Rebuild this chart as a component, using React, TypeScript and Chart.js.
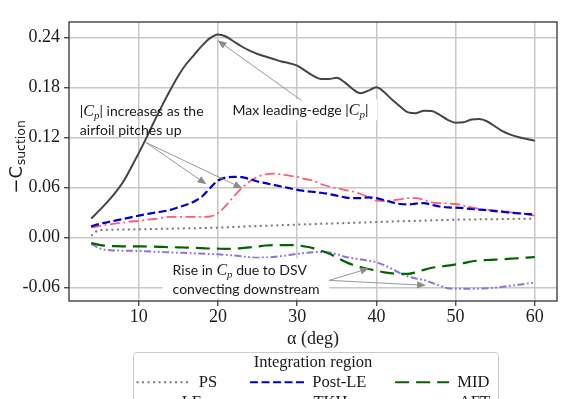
import React, { useEffect, useRef } from 'react';
import { Chart, registerables } from 'chart.js';

Chart.register(...registerables);

// ---------- data ----------
const ALPHA = [4, 5, 6, 7, 8, 9, 10, 11, 12, 13, 14, 15, 16, 17, 18, 19, 20, 21, 22, 23, 24, 25, 26, 27, 28, 29, 30, 31, 32, 33, 34, 35, 36, 37, 38, 39, 40, 41, 42, 43, 44, 45, 46, 47, 48, 49, 50, 51, 52, 53, 54, 55, 56, 57, 58, 59, 60];

const PS = [0.002, 0.0086, 0.009, 0.0092, 0.0094, 0.0095, 0.0096, 0.0098, 0.0100, 0.0102, 0.0104, 0.0106, 0.0108, 0.0110, 0.0112, 0.0114, 0.0116, 0.0120, 0.0124, 0.0128, 0.0132, 0.0136, 0.0139, 0.0142, 0.0146, 0.0149, 0.0152, 0.0156, 0.0159, 0.0162, 0.0165, 0.0168, 0.0171, 0.0174, 0.0177, 0.0180, 0.0184, 0.0187, 0.0190, 0.0193, 0.0196, 0.0198, 0.0201, 0.0204, 0.0206, 0.0209, 0.0212, 0.0213, 0.0214, 0.0216, 0.0217, 0.0218, 0.0219, 0.0221, 0.0222, 0.0223, 0.0224];

const POST_LE = [0.0132, 0.016, 0.018, 0.020, 0.022, 0.024, 0.026, 0.0278, 0.0296, 0.031, 0.033, 0.036, 0.039, 0.043, 0.049, 0.059, 0.068, 0.0718, 0.0725, 0.0722, 0.070, 0.067, 0.065, 0.063, 0.061, 0.059, 0.057, 0.0556, 0.0545, 0.0535, 0.052, 0.050, 0.048, 0.047, 0.047, 0.048, 0.047, 0.0445, 0.042, 0.040, 0.0395, 0.0405, 0.041, 0.039, 0.037, 0.036, 0.0356, 0.035, 0.034, 0.0333, 0.0325, 0.0315, 0.0305, 0.0295, 0.0288, 0.028, 0.0272];

const MID = [-0.0068, -0.009, -0.0102, -0.0106, -0.0108, -0.0108, -0.0109, -0.011, -0.0112, -0.0115, -0.0118, -0.012, -0.0123, -0.0126, -0.013, -0.0134, -0.0136, -0.0138, -0.0136, -0.013, -0.012, -0.011, -0.0098, -0.0094, -0.0094, -0.0094, -0.0096, -0.011, -0.013, -0.016, -0.0195, -0.024, -0.029, -0.033, -0.0358, -0.038, -0.040, -0.042, -0.0432, -0.0437, -0.0438, -0.042, -0.039, -0.0365, -0.0352, -0.034, -0.0325, -0.031, -0.029, -0.0278, -0.0272, -0.0268, -0.0262, -0.0256, -0.025, -0.0243, -0.0236];

const LE = [0.0225, 0.032, 0.042, 0.053, 0.066, 0.083, 0.101, 0.120, 0.140, 0.159, 0.177, 0.194, 0.208, 0.219, 0.230, 0.239, 0.2435, 0.241, 0.235, 0.229, 0.224, 0.220, 0.217, 0.214, 0.211, 0.209, 0.206, 0.200, 0.194, 0.190, 0.190, 0.1915, 0.186, 0.178, 0.173, 0.176, 0.180, 0.174, 0.165, 0.157, 0.150, 0.149, 0.152, 0.1515, 0.147, 0.141, 0.1375, 0.138, 0.1415, 0.142, 0.139, 0.133, 0.127, 0.123, 0.120, 0.118, 0.116];

const TKH = [0.0116, 0.0135, 0.015, 0.0165, 0.0175, 0.019, 0.0196, 0.021, 0.022, 0.0235, 0.0245, 0.0245, 0.0245, 0.0245, 0.0245, 0.025, 0.029, 0.038, 0.049, 0.059, 0.067, 0.0725, 0.0755, 0.0765, 0.0755, 0.074, 0.0725, 0.070, 0.068, 0.064, 0.061, 0.059, 0.057, 0.055, 0.052, 0.048, 0.044, 0.0435, 0.0445, 0.0455, 0.047, 0.047, 0.045, 0.042, 0.041, 0.0405, 0.040, 0.038, 0.036, 0.034, 0.033, 0.0322, 0.0318, 0.030, 0.029, 0.0275, 0.026];

const AFT = [-0.0076, -0.013, -0.0152, -0.0158, -0.016, -0.0162, -0.0164, -0.0168, -0.0172, -0.0176, -0.018, -0.0184, -0.0188, -0.0192, -0.0196, -0.0200, -0.0204, -0.021, -0.0218, -0.0228, -0.0238, -0.0244, -0.0242, -0.0236, -0.0225, -0.0212, -0.0198, -0.0186, -0.0178, -0.0176, -0.0182, -0.0202, -0.0232, -0.025, -0.0265, -0.028, -0.0298, -0.0335, -0.038, -0.043, -0.047, -0.0495, -0.0512, -0.0545, -0.058, -0.061, -0.0618, -0.0618, -0.0618, -0.0615, -0.061, -0.0603, -0.0593, -0.058, -0.0568, -0.0555, -0.0544];

const X_TICKS = [10, 20, 30, 40, 50, 60];
const Y_TICKS = [-0.06, 0, 0.06, 0.12, 0.18, 0.24];

// legend: number of trailing spaces used to mimic column alignment
const LEGEND_PAD: Record<string, number> = { PS: 7, 'Post-LE': 6, MID: 0, LE: 11, TKH: 11, AFT: 4 };

const SANS = '14px Lato';
const MATH_C = 'italic 16px "Liberation Serif"';
const MATH_SUB = 'italic 11px "Liberation Serif"';
const TXT = '#1a1a1a';
const ARROW = '#8c8c8c';

type Part = { t: string; font: string; dy?: number };
const CP: Part[] = [
  { t: '|', font: SANS },
  { t: 'C', font: MATH_C },
  { t: 'p', font: MATH_SUB, dy: 3 },
  { t: '|', font: SANS },
];

function drawRich(ctx: CanvasRenderingContext2D, x: number, y: number, parts: Part[]) {
  let cx = x;
  for (const p of parts) {
    ctx.font = p.font;
    ctx.fillText(p.t, cx, y + (p.dy || 0));
    cx += ctx.measureText(p.t).width;
  }
  return cx;
}

function arrow(ctx: CanvasRenderingContext2D, x0: number, y0: number, x1: number, y1: number) {
  const ang = Math.atan2(y1 - y0, x1 - x0);
  const L = 9, W = 3.6;
  const bx = x1 - L * Math.cos(ang), by = y1 - L * Math.sin(ang);
  ctx.save();
  ctx.setLineDash([]);
  ctx.strokeStyle = ARROW;
  ctx.lineWidth = 0.9;
  ctx.beginPath();
  ctx.moveTo(x0, y0);
  ctx.lineTo(bx, by);
  ctx.stroke();
  ctx.fillStyle = ARROW;
  ctx.beginPath();
  ctx.moveTo(x1, y1);
  ctx.lineTo(bx - W * Math.sin(ang), by + W * Math.cos(ang));
  ctx.lineTo(bx + W * Math.sin(ang), by - W * Math.cos(ang));
  ctx.closePath();
  ctx.fill();
  ctx.restore();
}

const mk = (label: string, values: number[], color: string, dash: number[], width: number) => ({
  label,
  data: ALPHA.map((a, i) => ({ x: a, y: values[i] })),
  borderColor: color,
  backgroundColor: color,
  borderDash: dash,
  borderWidth: width,
  pointRadius: 0,
  fill: false,
  cubicInterpolationMode: 'monotone' as const,
});

export default function App() {
  const ref = useRef<HTMLCanvasElement>(null);

  useEffect(() => {
    let chart: Chart | null = null;
    let cancelled = false;

    const frameAndNotes = {
      id: 'frameAndNotes',
      beforeDraw(c: any) {
        const ctx: CanvasRenderingContext2D = c.ctx;
        // legend frame
        ctx.save();
        ctx.fillStyle = 'rgba(255,255,255,0.8)';
        ctx.strokeStyle = '#cccccc';
        ctx.lineWidth = 1;
        ctx.beginPath();
        (ctx as any).roundRect(133.5, 352.5, 365, 90, 3);
        ctx.fill();
        ctx.stroke();
        ctx.restore();
      },
      afterDatasetsDraw(c: any) {
        const ctx: CanvasRenderingContext2D = c.ctx;
        const { left, right, top, bottom } = c.chartArea;
        const xs = c.scales.x, ys = c.scales.y;
        const P = (a: number, v: number) => [xs.getPixelForValue(a), ys.getPixelForValue(v)];

        // axes frame
        ctx.save();
        ctx.setLineDash([]);
        ctx.strokeStyle = '#333';
        ctx.lineWidth = 1.3;
        ctx.strokeRect(left, top, right - left, bottom - top);
        ctx.restore();

        ctx.save();
        // white boxes
        ctx.fillStyle = '#ffffff';
        {
          const [x0, y0] = P(21.2, 0.1656);
          const [x1, y1] = P(40.1, 0.1404);
          ctx.fillRect(x0, y0, x1 - x0, y1 - y0);
        }
        {
          const [x0, y0] = P(13.02, -0.0252);
          const [x1, y1] = P(34.05, -0.0732);
          ctx.fillRect(x0, y0, x1 - x0, y1 - y0);
        }

        // arrows
        {
          const [tx, ty] = P(30.53, 0.1644);
          const [hx, hy] = P(19.95, 0.2364);
          arrow(ctx, tx, ty, hx, hy);
        }
        {
          const [tx, ty] = P(10.88, 0.114);
          const [h1x, h1y] = P(18.56, 0.0636);
          const [h2x, h2y] = P(23.1, 0.0588);
          arrow(ctx, tx, ty, h1x, h1y);
          arrow(ctx, tx, ty, h2x, h2y);
        }
        {
          const [tx, ty] = P(34.05, -0.0516);
          const [h1x, h1y] = P(39.09, -0.0372);
          const [h2x, h2y] = P(46.27, -0.0576);
          arrow(ctx, tx, ty, h1x, h1y);
          arrow(ctx, tx, ty, h2x, h2y);
        }

        // texts
        ctx.fillStyle = TXT;
        ctx.textBaseline = 'alphabetic';
        ctx.textAlign = 'left';
        {
          const [x, y] = P(21.84, 0.1464);
          drawRich(ctx, x, y, [{ t: 'Max leading-edge ', font: SANS }, ...CP]);
        }
        {
          const [x, y1] = P(2.57, 0.1456);
          const [, y2] = P(2.57, 0.1224);
          drawRich(ctx, x, y1, [...CP, { t: ' increases as the', font: SANS }]);
          drawRich(ctx, x, y2, [{ t: 'airfoil pitches up', font: SANS }]);
        }
        {
          const [x, y1] = P(14.28, -0.0456);
          const [, y2] = P(14.28, -0.0684);
          drawRich(ctx, x, y1, [
            { t: 'Rise in ', font: SANS },
            { t: 'C', font: MATH_C },
            { t: 'p', font: MATH_SUB, dy: 3 },
            { t: ' due to DSV', font: SANS },
          ]);
          drawRich(ctx, x, y2, [{ t: 'convecting downstream', font: SANS }]);
        }
        ctx.restore();

        // y-axis title  -C_suction
        ctx.save();
        ctx.fillStyle = TXT;
        ctx.textBaseline = 'alphabetic';
        ctx.textAlign = 'left';
        const cy = (top + bottom) / 2;
        ctx.translate(22, cy + 32);
        ctx.rotate(-Math.PI / 2);
        ctx.font = '18px "DejaVu Sans"';
        ctx.fillText('\u2212C', 0, 0);
        const w = ctx.measureText('\u2212C').width;
        ctx.font = '12.5px "DejaVu Sans"';
        ctx.fillText('suction', w + 0.5, 3);
        ctx.restore();
      },
    };

    const build = () => {
      if (cancelled || !ref.current) return;
      const datasets = [
        mk('PS', PS, '#777777', [2, 3.5], 2),
        mk('Post-LE', POST_LE, '#0000cd', [8, 3.5], 2.2),
        mk('MID', MID, '#006400', [14, 7], 2.2),
        mk('LE', LE, '#444444', [], 2),
        mk('TKH', TKH, '#ff5a78', [10, 3.5, 2, 3.5], 1.8),
        mk('AFT', AFT, '#9370db', [7, 2.5, 1.8, 2.5, 1.8, 2.5], 2),
      ];

      chart = new Chart(ref.current, {
        type: 'line',
        data: { datasets },
        plugins: [frameAndNotes],
        options: {
          responsive: false,
          devicePixelRatio: 1,
          animation: false,
          events: [],
          layout: { padding: { top: 22, right: 17, left: 0, bottom: 0 } },
          scales: {
            x: {
              type: 'linear',
              min: 1.2,
              max: 62.8,
              afterBuildTicks: (s: any) => { s.ticks = X_TICKS.map((v) => ({ value: v })); },
              afterFit: (s: any) => { s.height = 50.7; },
              ticks: {
                font: { family: 'Liberation Serif', size: 18 },
                color: TXT,
                padding: 0,
                maxRotation: 0,
                autoSkip: false,
                callback: (v: any) => String(v),
              },
              grid: { color: '#c8c8c8', lineWidth: 1.5, drawTicks: true, tickLength: 5, tickColor: '#333', tickWidth: 1.2 },
              border: { display: false },
              title: {
                display: true,
                text: 'α (deg)',
                font: { family: 'Liberation Serif', size: 18 },
                color: TXT,
                padding: { top: 0, bottom: 2 },
              },
            },
            y: {
              type: 'linear',
              min: -0.0764,
              max: 0.2584,
              afterBuildTicks: (s: any) => { s.ticks = Y_TICKS.map((v) => ({ value: v })); },
              afterFit: (s: any) => { s.width = 69; },
              ticks: {
                font: { family: 'Liberation Serif', size: 18 },
                color: TXT,
                padding: 4,
                autoSkip: false,
                callback: (v: any) => Number(v).toFixed(2),
              },
              grid: { color: '#c8c8c8', lineWidth: 1.5, drawTicks: true, tickLength: 5, tickColor: '#333', tickWidth: 1.2 },
              border: { display: false },
            },
          },
          plugins: {
            tooltip: { enabled: false },
            legend: {
              display: true,
              position: 'bottom',
              fullSize: false,
              align: 'center',
              title: {
                display: true,
                text: 'Integration region',
                color: TXT,
                font: { family: 'Liberation Serif', size: 16.5 },
                padding: { top: 2.5, bottom: -4 } as any,
              },
              labels: {
                usePointStyle: true,
                pointStyle: 'line',
                pointStyleWidth: 54,
                padding: 4,
                color: TXT,
                font: { family: 'Liberation Serif', size: 16.5 },
                generateLabels: (c: any) =>
                  c.data.datasets.map((ds: any, i: number) => ({
                    text: ds.label + ' '.repeat(LEGEND_PAD[ds.label] || 0),
                    fillStyle: 'rgba(0,0,0,0)',
                    strokeStyle: ds.borderColor,
                    lineWidth: ds.borderWidth,
                    lineDash: ds.borderDash,
                    lineCap: 'butt',
                    pointStyle: 'line',
                    fontColor: TXT,
                    hidden: false,
                    datasetIndex: i,
                  })),
              },
            },
          },
        } as any,
      });
    };

    const fonts = ['14px Lato', '18px "Liberation Serif"', 'italic 16px "Liberation Serif"', '18px "DejaVu Sans"'];
    Promise.all(fonts.map((f) => (document as any).fonts.load(f)))
      .catch(() => undefined)
      .then(build);

    return () => {
      cancelled = true;
      if (chart) chart.destroy();
    };
  }, []);

  return (
    <div style={{ position: 'absolute', left: 0, top: 0, width: 574, height: 399, overflow: 'hidden', background: '#fff' }}>
      <canvas ref={ref} width={574} height={421} style={{ display: 'block', width: 574, height: 421 }} />
    </div>
  );
}
